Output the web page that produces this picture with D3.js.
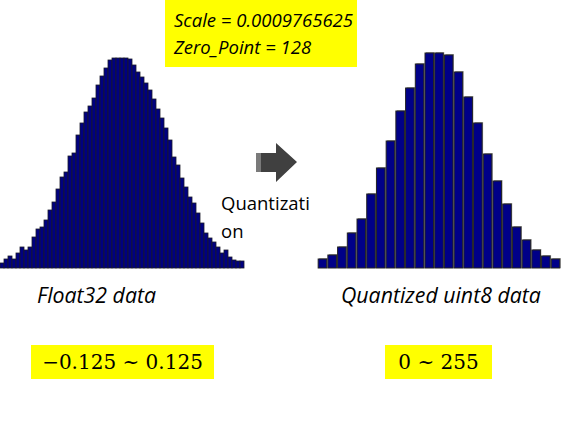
<!DOCTYPE html>
<html>
<head>
<meta charset="utf-8">
<script src="https://cdn.jsdelivr.net/npm/d3@7"></script>
<style>
  body { margin: 0; background: #fff; }
  svg { display: block; }
</style>
</head>
<body>
<svg width="562" height="436"></svg>
<script>
// float32 histogram, bin counts (61 bins)
let floatCounts = [5, 9, 12, 9, 15, 21, 18, 21, 31, 39, 41, 48, 58, 66, 79, 91, 96, 112, 115, 133,
    145, 156, 162, 170, 183, 192, 200, 208, 210, 210, 210, 210, 209, 203, 196, 191, 185, 178, 169, 159,
    150, 140, 128, 111, 103, 90, 81, 71, 65, 55, 45, 35, 30, 26, 21, 15, 18, 11, 8, 7, 7];

// uint8 histogram, 25 bins
let uintCounts = [9, 13, 21, 35, 49, 74, 100, 127, 157, 180, 204, 215, 215, 213, 196,
    171, 145, 114, 87, 64, 41, 28, 18, 12, 9];

let paramLines = ["Scale = 0.0009765625", "Zero_Point = 128"];
let captions = ["Float32 data", "Quantized uint8 data"];
let ranges = ["\u22120.125 ~ 0.125", "0 ~ 255"];
let arrowLabel = ["Quantizati", "on"];

let svg = d3.select("svg");
let sansFont = "'Open Sans', sans-serif";
let serifFont = "'DejaVu Serif', serif";

// left histogram
let xFloat = d3.scaleBand()
    .domain(d3.range(floatCounts.length))
    .range([0, 244])
    .padding(0);
let yFloat = d3.scaleLinear().domain([0, 210]).range([268, 58]);

svg.append("g")
    .attr("class", "float-bars")
    .selectAll("rect")
    .data(floatCounts)
    .enter()
    .append("rect")
    .attr("x", (d, i) => xFloat(i))
    .attr("y", (d) => yFloat(d))
    .attr("width", xFloat.bandwidth())
    .attr("height", (d) => yFloat(0) - yFloat(d))
    .attr("fill", "#000080")
    .attr("stroke", "#1a1a2a")
    .attr("stroke-width", 0.8);

// right histogram
let xUint = d3.scaleBand()
    .domain(d3.range(uintCounts.length))
    .range([317, 561])
    .padding(0.12);
let yUint = d3.scaleLinear().domain([0, 215]).range([268, 53]);

let uintG = svg.append("g").attr("class", "uint-bars");

// soft grey shadow behind each bar
uintG.selectAll("rect.shadow")
    .data(uintCounts)
    .enter()
    .append("rect")
    .attr("class", "shadow")
    .attr("x", (d, i) => xUint(i) + 1)
    .attr("y", (d) => yUint(d) - 1)
    .attr("width", xUint.bandwidth())
    .attr("height", (d) => yUint(0) - yUint(d) + 1)
    .attr("fill", "#aaa");

uintG.selectAll("rect.bar")
    .data(uintCounts)
    .enter()
    .append("rect")
    .attr("class", "bar")
    .attr("x", (d, i) => xUint(i))
    .attr("y", (d) => yUint(d))
    .attr("width", xUint.bandwidth())
    .attr("height", (d) => yUint(0) - yUint(d))
    .attr("fill", "#000088")
    .attr("stroke", "#222")
    .attr("stroke-width", 1);

// scale / zero point box
svg.append("rect")
    .attr("x", 165).attr("y", 0)
    .attr("width", 192).attr("height", 67)
    .attr("fill", "#ffff00");

svg.append("g")
    .selectAll("text")
    .data(paramLines)
    .enter()
    .append("text")
    .attr("x", 174)
    .attr("y", (d, i) => 27 + i * 27)
    .attr("font-family", sansFont)
    .attr("font-style", "italic")
    .attr("font-size", 18.5)
    .attr("fill", "#000")
    .text((d) => d);

// arrow
let arrow = svg.append("g").attr("class", "arrow");
arrow.append("path")
    .attr("d", "M256,153 L276,153 L276,143 L297,162 L276,182 L276,172 L256,172 Z")
    .attr("fill", "#404040");
arrow.append("rect")
    .attr("x", 256).attr("y", 153)
    .attr("width", 5).attr("height", 19)
    .attr("fill", "#7a7a7a");

svg.append("g")
    .selectAll("text")
    .data(arrowLabel)
    .enter()
    .append("text")
    .attr("x", 221)
    .attr("y", (d, i) => 210 + i * 28)
    .attr("font-family", sansFont)
    .attr("font-size", 18.5)
    .attr("fill", "#000")
    .text((d) => d);

// captions
let captionX = [37, 341];
svg.append("g")
    .selectAll("text")
    .data(captions)
    .enter()
    .append("text")
    .attr("x", (d, i) => captionX[i])
    .attr("y", 303)
    .attr("font-family", sansFont)
    .attr("font-style", "italic")
    .attr("font-size", 21.3)
    .attr("fill", "#000")
    .text((d) => d);

// range boxes
let boxX = [31, 385];
let boxW = [183, 107];
let rangeG = svg.append("g").selectAll("g")
    .data(ranges)
    .enter()
    .append("g");

rangeG.append("rect")
    .attr("x", (d, i) => boxX[i])
    .attr("y", 345)
    .attr("width", (d, i) => boxW[i])
    .attr("height", 34)
    .attr("fill", "#ffff00");

rangeG.append("text")
    .attr("x", (d, i) => boxX[i] + boxW[i] / 2)
    .attr("y", 369)
    .attr("text-anchor", "middle")
    .attr("font-family", serifFont)
    .attr("font-size", 20)
    .attr("fill", "#000")
    .text((d) => d);
</script>
</body>
</html>
